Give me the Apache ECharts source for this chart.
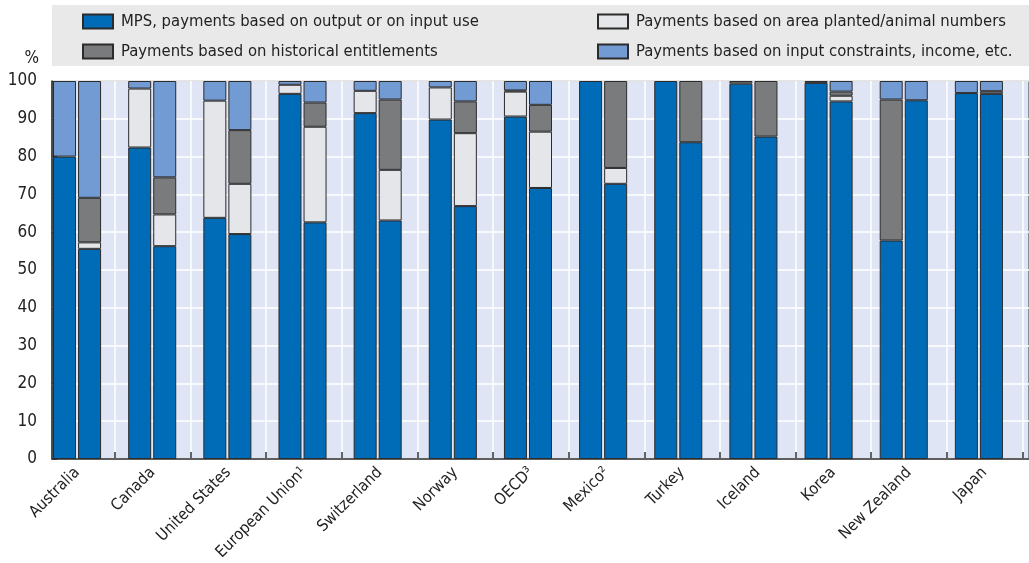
<!DOCTYPE html>
<html>
<head>
<meta charset="utf-8">
<script src="https://cdn.jsdelivr.net/npm/echarts@6/dist/echarts.min.js"></script>
<style>
  html, body { margin: 0; padding: 0; background: #fff; }
  #chart { width: 1029px; height: 563px; }
</style>
</head>
<body>
<div id="chart"></div>
<script>
// countries, two bars each (earlier period, recent period)
var countries = ['Australia', 'Canada', 'United States', 'European Union¹', 'Switzerland', 'Norway',
  'OECD³', 'Mexico²', 'Turkey', 'Iceland', 'Korea', 'New Zealand', 'Japan']

var seriesNames = [
  'MPS, payments based on output or on input use',
  'Payments based on area planted/animal numbers',
  'Payments based on historical entitlements',
  'Payments based on input constraints, income, etc.'
]

// % of PSE, pairs per country
var mps = [80.0, 55.6, 82.4, 56.3, 63.8, 59.5, 96.6, 62.6, 91.5, 63.1, 89.8, 66.9, 90.6, 71.7,
  100, 72.8, 100, 83.8, 99.3, 85.3, 99.5, 94.6, 57.8, 94.9, 96.8, 96.6]
var area = [0, 1.7, 15.6, 8.4, 31.0, 13.3, 2.4, 25.3, 5.9, 13.4, 8.5, 19.3, 6.6, 14.9,
  0, 4.2, 0, 0, 0, 0, 0, 1.5, 0, 0, 0, 0]
var hist = [0, 11.8, 0, 9.8, 0, 14.2, 0, 6.4, 0, 18.6, 0, 8.4, 0.3, 7.1,
  0, 23.0, 0, 16.2, 0.7, 14.7, 0.5, 1.1, 37.3, 0, 0, 0.7]
var inputc = [20.0, 30.9, 2.0, 25.5, 5.2, 13.0, 1.0, 5.7, 2.6, 4.9, 1.7, 5.4, 2.5, 6.3,
  0, 0, 0, 0, 0, 0, 0, 2.8, 4.9, 5.1, 3.2, 2.7]

var yTicks = [0, 10, 20, 30, 40, 50, 60, 70, 80, 90, 100]

var colors = ['#006bb6', '#e5e6e9', '#7a7b7d', '#729bd3']
var font = "'Liberation Sans Narrow', 'Arial Narrow', 'DejaVu Sans Condensed', sans-serif"

// 3 slots per country: bar 1, bar 2, empty gap
var slots = []
countries.forEach(function (c, i) {
  slots.push(i + '-a', i + '-b', i + '-gap')
})
function spread(arr) {
  var out = []
  for (var i = 0; i < countries.length; i++) {
    out.push(arr[2 * i] || '-', arr[2 * i + 1] || '-', '-')
  }
  return out
}

var chart = echarts.init(document.getElementById('chart'))

var barSeries = [mps, area, hist, inputc].map(function (arr, k) {
  return {
    name: seriesNames[k],
    type: 'bar',
    stack: 'total',
    xAxisIndex: 0,
    yAxisIndex: 0,
    barWidth: 23,
    z: 3,
    itemStyle: { color: colors[k], borderColor: '#2b2b2b', borderWidth: 1 },
    emphasis: { disabled: true },
    data: spread(arr)
  }
})

var legendText = { fontFamily: font, fontSize: 16.5, color: '#222', lineHeight: 16, padding: [0, 0, 0, 3] }

chart.setOption({
  animation: false,
  textStyle: { fontFamily: font },
  graphic: [{
    type: 'rect',
    z: -10,
    shape: { x: 52, y: 5, width: 977, height: 61 },
    style: { fill: '#e9e9e9' }
  }],
  legend: [{
    data: [seriesNames[0], seriesNames[2]],
    orient: 'vertical',
    left: 77,
    top: 8,
    itemWidth: 30,
    itemHeight: 14,
    itemGap: 13,
    icon: 'rect',
    textStyle: legendText
  }, {
    data: [seriesNames[1], seriesNames[3]],
    orient: 'vertical',
    left: 592,
    top: 8,
    itemWidth: 30,
    itemHeight: 14,
    itemGap: 13,
    icon: 'rect',
    textStyle: legendText
  }],
  grid: [{
    left: 52,
    top: 81,
    width: 983,
    height: 378,
    show: true,
    backgroundColor: '#dfe5f4',
    borderColor: '#333',
    borderWidth: 1
  }, {
    // shifted grid carrying the country labels, gap ticks and vertical gridlines
    left: 39.4,
    top: 81,
    width: 983,
    height: 378
  }],
  xAxis: [{
    type: 'category',
    gridIndex: 0,
    data: slots,
    axisLine: { lineStyle: { color: '#333', width: 1.5 } },
    axisTick: { show: false },
    axisLabel: { show: false },
    splitLine: { show: false }
  }, {
    type: 'category',
    gridIndex: 1,
    z: 1,
    data: countries,
    axisLine: { show: false },
    axisTick: {
      show: true,
      inside: true,
      length: 6,
      interval: function (i) { return i > 0 },
      lineStyle: { color: '#333', width: 1.5 }
    },
    splitLine: {
      show: true,
      interval: function (i) { return i > 0 },
      lineStyle: { color: '#ffffff', width: 1.5 }
    },
    axisLabel: {
      interval: 0,
      rotate: 45,
      margin: 12,
      fontSize: 16,
      color: '#222',
      fontFamily: font
    }
  }],
  yAxis: [{
    type: 'value',
    gridIndex: 0,
    min: yTicks[0],
    max: yTicks[yTicks.length - 1],
    interval: 10,
    name: '%',
    nameLocation: 'end',
    nameGap: 14,
    nameTextStyle: { fontSize: 17, color: '#222', align: 'right', padding: [0, 13, 0, 0] },
    axisLine: { show: true, lineStyle: { color: '#333', width: 1.5 } },
    axisTick: { show: true, inside: true, length: 5, lineStyle: { color: '#333' } },
    axisLabel: { fontSize: 17, color: '#222', margin: 15 },
    splitLine: { show: true, lineStyle: { color: '#ffffff', width: 1.5 } }
  }, {
    type: 'value',
    gridIndex: 1,
    min: 0,
    max: 100,
    show: false
  }],
  series: barSeries
})
</script>
</body>
</html>
